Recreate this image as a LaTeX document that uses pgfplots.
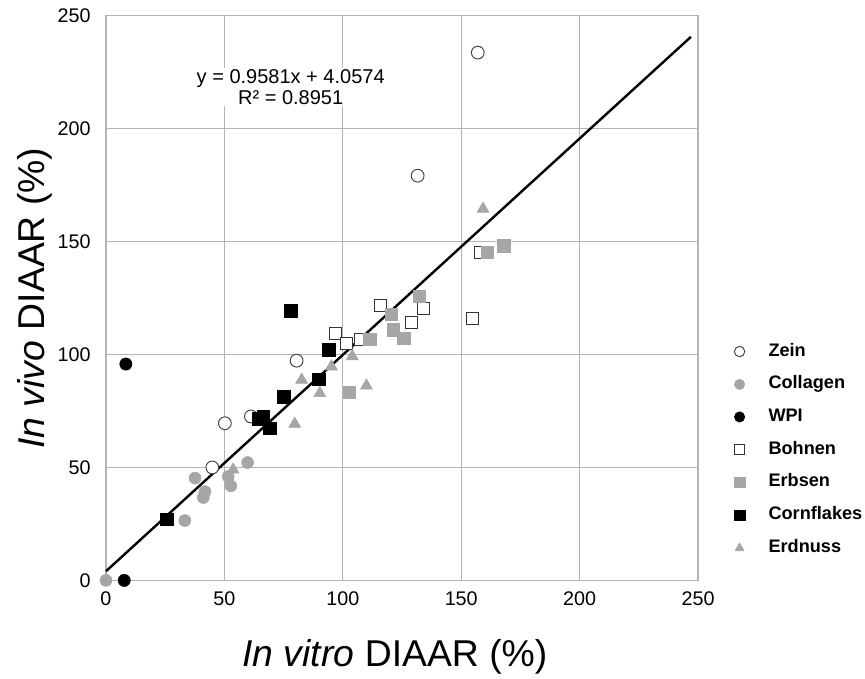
\documentclass[border=0pt]{standalone}
\usepackage{fontspec}
\setmainfont{Liberation Sans}
\usepackage{pgfplots}
\pgfplotsset{compat=1.18}
\definecolor{ptgrey}{HTML}{A6A6A6}
\definecolor{gridgrey}{HTML}{B4B4B4}

\begin{document}
\begin{tikzpicture}
\begin{axis}[
    scale only axis,
    width=444pt, height=423.4pt,
    xmin=0, xmax=250, ymin=0, ymax=250,
    xtick={0,50,...,250}, ytick={0,50,...,250},
    grid=major,
    major grid style={gridgrey, line width=0.9pt},
    axis line style={gridgrey, line width=0.9pt},
    major tick length=0pt,
    tick label style={font=\fontsize{14.8}{17}\selectfont},
    /pgf/number format/assume math mode=true,
    xticklabel style={yshift=-5pt},
    yticklabel style={xshift=-8pt},
    xlabel={\textit{In vitro} DIAAR (\%)},
    ylabel={\textit{In vivo} DIAAR (\%)},
    label style={font=\fontsize{28}{32}\selectfont},
    xlabel style={at={(axis description cs:0.488,-0.1356)}, anchor=center},
    ylabel style={at={(axis description cs:-0.12,0.5)}, anchor=center},
    clip=false,
    legend style={at={(axis description cs:1.058,0.421)}, anchor=north west,
        draw=none, fill=none, inner sep=0pt, row sep=11.8pt, column sep=16.5pt,
        font=\bfseries\fontsize{13.6}{15}\selectfont,
        nodes={inner sep=0pt, text depth=3pt}},
    legend cell align=left,
    legend image code/.code={\path (-5pt,-5pt) (5pt,5pt); \draw[#1, mark size=3.9pt] plot coordinates {(0pt,0pt)};},
]

% Zein
\addplot[only marks, mark=*, mark size=4.8pt, mark options={draw=black!75, fill=white, line width=0.7pt}] coordinates {
    (157,233.7) (131.6,179.2) (80.5,97.3) (50.2,69.6) (61.2,72.6) (44.9,50.0)
};
\addlegendentry{Zein}

% Collagen
\addplot[only marks, mark=*, mark size=4.5pt, mark options={draw=ptgrey, fill=ptgrey}] coordinates {
    (0,0) (37.6,45.3) (41.8,39.3) (41.1,36.7) (33.3,26.5) (51.6,46.0) (52.7,41.9) (59.8,52.2)
};
\addlegendentry{Collagen}

% WPI
\addplot[only marks, mark=*, mark size=4.6pt, mark options={draw=black, fill=black}] coordinates {
    (8.4,95.8) (7.7,0)
};
\addlegendentry{WPI}

% Bohnen
\addplot[only marks, mark=square*, mark size=4.5pt, mark options={draw=black!80, fill=white, line width=0.7pt}] coordinates {
    (116,121.6) (97,109.5) (101.6,105) (107.6,106.6) (134.2,120.2) (129.1,114) (154.7,116.2) (158.1,145.2)
};
\addlegendentry{Bohnen}

% Erbsen
\addplot[only marks, mark=square*, mark size=4.6pt, mark options={draw=ptgrey, fill=ptgrey}] coordinates {
    (161,145.2) (168,148.2) (132.2,125.7) (120.5,118) (121.2,111) (125.7,107.3) (111.4,106.9) (102.7,83.2)
};
\addlegendentry{Erbsen}

% Cornflakes
\addplot[only marks, mark=square*, mark size=4.8pt, mark options={draw=black, fill=black}] coordinates {
    (77.9,119.5) (94.1,102.1) (90,89.1) (75.1,81.4) (66.4,72.3) (69.2,67.4) (25.6,27.1) (64.5,71.5)
};
\addlegendentry{Cornflakes}

% Erdnuss
\addplot[only marks, mark=triangle*, mark size=5.2pt, mark options={draw=ptgrey, fill=ptgrey}] coordinates {
    (159.2,164.5) (104,99.2) (110,86.2) (95.2,94.7) (82.6,88.8) (90.3,82.9) (79.7,69.3) (53.7,49)
};
\addlegendentry{Erdnuss}

% linear trendline
\addplot[black, line width=1.8pt, forget plot] coordinates {(0,4.0574) (247,240.7)};

\node[fill=white, align=center, inner sep=1pt, font=\fontsize{15}{16.3}\selectfont]
    at (axis cs:78,218.4) {y = 0.9581x + 4.0574\\R² = 0.8951};

\coordinate (bl) at (rel axis cs:-0.179,-0.171);
\coordinate (tr) at (rel axis cs:1.282,1.028);
\end{axis}
\path (bl) rectangle (tr);
\end{tikzpicture}
\end{document}
